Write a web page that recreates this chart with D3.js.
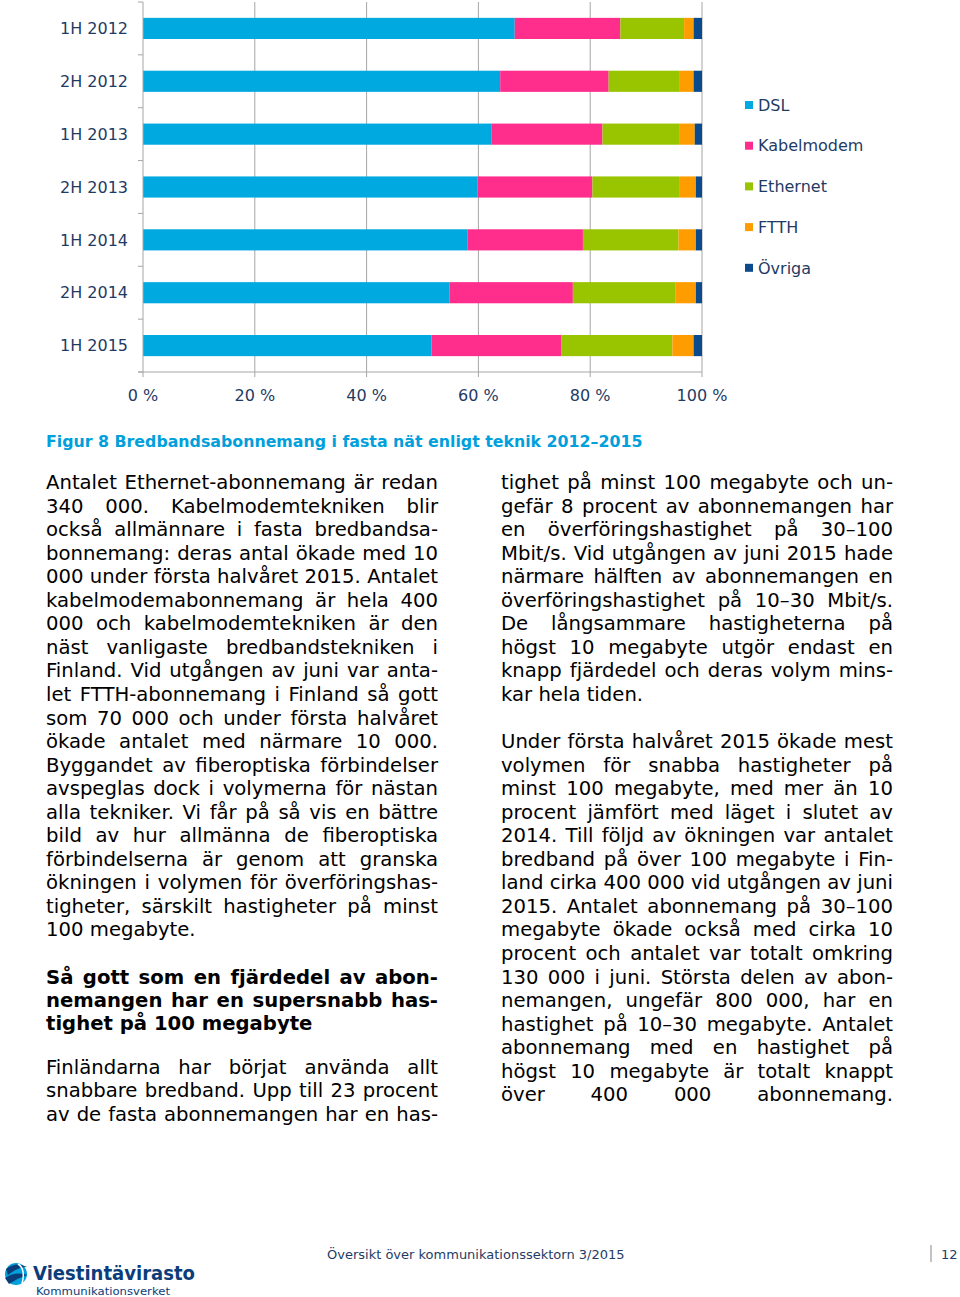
<!DOCTYPE html>
<html><head><meta charset="utf-8">
<script src="https://cdn.jsdelivr.net/npm/d3@7"></script>
<style>body{margin:0;background:#fff}svg{display:block}</style>
</head><body>
<svg id="c" width="960" height="1297"></svg>
<script>
// ---- data ----
const categories = ["1H 2012","2H 2012","1H 2013","2H 2013","1H 2014","2H 2014","1H 2015"];
const seriesNames = ["DSL","Kabelmodem","Ethernet","FTTH","Övriga"];
const DSL        = [66.5, 63.9, 62.3, 59.8, 58.1, 54.8, 51.6];
const Kabelmodem = [18.9, 19.4, 19.9, 20.6, 20.6, 22.1, 23.2];
const Ethernet   = [11.4, 12.6, 13.7, 15.5, 17.1, 18.4, 19.9];
const FTTH       = [1.7, 2.6, 2.8, 3.0, 3.1, 3.6, 3.8];
const Ovriga     = [1.5, 1.5, 1.3, 1.1, 1.1, 1.1, 1.5];
const xTicks = [0, 20, 40, 60, 80, 100];
const colors = ["#00a9e0","#ff2d8c","#99c400","#ff9c00","#0b4a8c"];

const caption = "Figur 8 Bredbandsabonnemang i fasta nät enligt teknik 2012–2015";
const leftCol = [
 {t:"p", lines:[
 "Antalet Ethernet-abonnemang är redan",
 "340 000. Kabelmodemtekniken blir",
 "också allmännare i fasta bredbandsa-",
 "bonnemang: deras antal ökade med 10",
 "000 under första halvåret 2015. Antalet",
 "kabelmodemabonnemang är hela 400",
 "000 och kabelmodemtekniken är den",
 "näst vanligaste bredbandstekniken i",
 "Finland. Vid utgången av juni var anta-",
 "let FTTH-abonnemang i Finland så gott",
 "som 70 000 och under första halvåret",
 "ökade antalet med närmare 10 000.",
 "Byggandet av fiberoptiska förbindelser",
 "avspeglas dock i volymerna för nästan",
 "alla tekniker. Vi får på så vis en bättre",
 "bild av hur allmänna de fiberoptiska",
 "förbindelserna är genom att granska",
 "ökningen i volymen för överföringshas-",
 "tigheter, särskilt hastigheter på minst",
 "100 megabyte."], last:false},
 {t:"h", lines:[
 "Så gott som en fjärdedel av abon-",
 "nemangen har en supersnabb has-",
 "tighet på 100 megabyte"], last:false},
 {t:"p", lines:[
 "Finländarna har börjat använda allt",
 "snabbare bredband. Upp till 23 procent",
 "av de fasta abonnemangen har en has-"], last:true}
];
const rightCol = [
 {t:"p", lines:[
 "tighet på minst 100 megabyte och un-",
 "gefär 8 procent av abonnemangen har",
 "en överföringshastighet på 30–100",
 "Mbit/s. Vid utgången av juni 2015 hade",
 "närmare hälften av abonnemangen en",
 "överföringshastighet på 10–30 Mbit/s.",
 "De långsammare hastigheterna på",
 "högst 10 megabyte utgör endast en",
 "knapp fjärdedel och deras volym mins-",
 "kar hela tiden."], last:false},
 {t:"p", lines:[
 "Under första halvåret 2015 ökade mest",
 "volymen för snabba hastigheter på",
 "minst 100 megabyte, med mer än 10",
 "procent jämfört med läget i slutet av",
 "2014. Till följd av ökningen var antalet",
 "bredband på över 100 megabyte i Fin-",
 "land cirka 400 000 vid utgången av juni",
 "2015. Antalet abonnemang på 30–100",
 "megabyte ökade också med cirka 10",
 "procent och antalet var totalt omkring",
 "130 000 i juni. Största delen av abon-",
 "nemangen, ungefär 800 000, har en",
 "hastighet på 10–30 megabyte. Antalet",
 "abonnemang med en hastighet på",
 "högst 10 megabyte är totalt knappt",
 "över 400 000 abonnemang."], last:true}
];

// ---- chart ----
const svg = d3.select("#c");
const FONT = "'DejaVu Sans', Verdana, sans-serif";
const navy = "#1f3b64";
const plot = {left:143, right:702, top:2, bottom:372};
const x = d3.scaleLinear().domain([0,100]).range([plot.left, plot.right]);
const y = d3.scaleBand().domain(categories).range([plot.top, plot.bottom]).paddingInner(0.6).paddingOuter(0.3);

const table = categories.map((c,i)=>({cat:c, DSL:DSL[i], Kabelmodem:Kabelmodem[i], Ethernet:Ethernet[i], FTTH:FTTH[i], "Övriga":Ovriga[i]}));
const stack = d3.stack().keys(seriesNames)(table);

const g = svg.append("g");
g.selectAll(".grid").data(xTicks.slice(1)).join("line")
  .attr("x1",d=>x(d)).attr("x2",d=>x(d)).attr("y1",plot.top).attr("y2",plot.bottom+5)
  .attr("stroke","#a6a6a6").attr("stroke-width",1);
stack.forEach((s,si)=>{
  g.append("g").attr("fill",colors[si]).selectAll("rect").data(s).join("rect")
   .attr("x",d=>x(d[0])).attr("width",d=>x(d[1])-x(d[0]))
   .attr("y",d=>y(d.data.cat)).attr("height",y.bandwidth());
});
g.append("line").attr("x1",plot.left).attr("x2",plot.left).attr("y1",plot.top).attr("y2",plot.bottom+5).attr("stroke","#a6a6a6");
const step = y.step();
g.selectAll(".yt").data(d3.range(categories.length+1)).join("line")
  .attr("x1",plot.left-5).attr("x2",plot.left).attr("y1",d=>plot.top+d*step).attr("y2",d=>plot.top+d*step)
  .attr("stroke","#a6a6a6");
g.append("line").attr("x1",plot.left-5).attr("x2",plot.right).attr("y1",plot.bottom).attr("y2",plot.bottom).attr("stroke","#a6a6a6");
g.selectAll(".xl").data(xTicks).join("text")
  .attr("x",d=>x(d)).attr("y",401).attr("text-anchor","middle")
  .attr("font-family",FONT).attr("font-size",16).attr("fill",navy).text(d=>d+" %");
g.selectAll(".yl").data(categories).join("text")
  .attr("x",128).attr("y",d=>y(d)+y.bandwidth()/2).attr("dy","0.36em").attr("text-anchor","end")
  .attr("font-family",FONT).attr("font-size",16).attr("fill",navy).text(d=>d);
const lg = g.append("g");
seriesNames.forEach((n,i)=>{
  const cy = 105 + i*40.7;
  lg.append("rect").attr("x",745).attr("y",cy-4).attr("width",8).attr("height",8).attr("fill",colors[i]);
  lg.append("text").attr("x",758).attr("y",cy).attr("dy","0.36em").attr("font-family",FONT).attr("font-size",16).attr("fill",navy).text(n);
});

const cap = svg.append("text").attr("x",46).attr("y",447).attr("font-family",FONT).attr("font-weight","bold")
  .attr("font-size",15).attr("fill","#00a0dc").text(caption);
const capW = cap.node().getComputedTextLength();
cap.attr("font-size", 15*597/capW);

// ---- justified text ----
function measure(str, size, weight){
  const t = svg.append("text").attr("font-family",FONT).attr("font-size",size).attr("font-weight",weight).attr("xml:space","preserve").text(str);
  const w = t.node().getComputedTextLength(); t.remove(); return w;
}
// choose a font size so that the widest justified normal line fits the column (Verdana-like width)
function fitSize(blocks, width, weight, type){
  let maxW = 0;
  const sp = measure("a a",17,weight) - measure("aa",17,weight);
  blocks.filter(b=>b.t===type).forEach(b=>b.lines.forEach(ln=>{
    const ws = ln.split(" ");
    const w = d3.sum(ws, s=>measure(s,17,weight)) + sp*(ws.length-1);
    if (w>maxW) maxW = w;
  }));
  return 17*width/maxW;
}
const bodySize = Math.min(fitSize(leftCol,392,"normal","p"), fitSize(rightCol,392,"normal","p"));
const headSize = Math.min(bodySize*1.0, fitSize(leftCol,392,"bold","h"));

function drawCol(blocks, x0, width, y0){
  let yy = y0;
  blocks.forEach((b)=>{
    const isH = b.t==="h";
    const weight = isH ? "bold" : "normal";
    const size = isH ? headSize : bodySize;
    const lh = isH ? 23.1 : 23.55;
    const sp = measure("a a",size,weight) - measure("aa",size,weight);
    b.lines.forEach((ln,li)=>{
      const words = ln.split(" ");
      const ws = words.map(w=>measure(w,size,weight));
      const tot = d3.sum(ws);
      let gap = sp;
      const justify = !(li===b.lines.length-1) || b.last;
      if (justify && words.length>1) gap = (width-tot)/(words.length-1);
      let cx = x0;
      words.forEach((w,wi)=>{
        svg.append("text").attr("x",cx).attr("y",yy).attr("font-family",FONT).attr("font-size",size)
          .attr("font-weight",weight).attr("fill","#000").text(w);
        cx += ws[wi] + gap;
      });
      yy += lh;
    });
    yy += isH ? 21 : 23.55;
  });
}
drawCol(leftCol, 46, 392, 489);
drawCol(rightCol, 501, 392, 489);

// ---- footer ----
svg.append("text").attr("x",327).attr("y",1259).attr("font-family",FONT).attr("font-size",13).attr("fill",navy)
  .text("Översikt över kommunikationssektorn 3/2015");
svg.append("line").attr("x1",931).attr("x2",931).attr("y1",1245).attr("y2",1262).attr("stroke","#888");
svg.append("text").attr("x",941).attr("y",1259).attr("font-family",FONT).attr("font-size",13).attr("fill",navy).text("12");
const lo = svg.append("g");
lo.append("circle").attr("cx",16).attr("cy",1274).attr("r",11).attr("fill","#00a0dc");
lo.append("path").attr("d","M6,1269 Q16,1261 27,1267 Q18,1267 8,1275 Z").attr("fill","#0b3d7a");
lo.append("path").attr("d","M5,1278 Q16,1271 27,1275 Q18,1278 9,1284 Z").attr("fill","#0b3d7a");
lo.append("path").attr("d","M18,1264 Q26,1269 22,1284").attr("stroke","#fff").attr("stroke-width",1.5).attr("fill","none");
lo.append("text").attr("x",33).attr("y",1280).attr("font-family",FONT).attr("font-weight","bold").attr("font-size",20).attr("fill","#0b3d7a").attr("textLength",162).attr("lengthAdjust","spacingAndGlyphs").text("Viestintävirasto");
lo.append("text").attr("x",36).attr("y",1295).attr("font-family",FONT).attr("font-size",11).attr("fill","#0b3d7a").attr("textLength",134).attr("lengthAdjust","spacingAndGlyphs").text("Kommunikationsverket");
</script>
</body></html>
